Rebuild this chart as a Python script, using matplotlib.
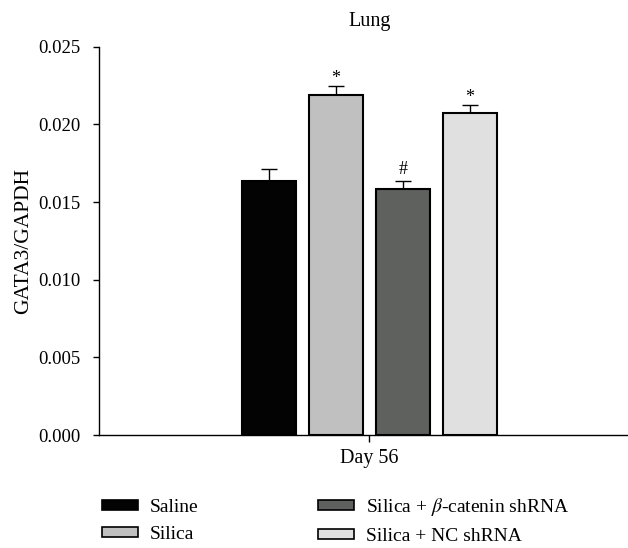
import matplotlib
matplotlib.use("Agg")
import matplotlib.pyplot as plt
from matplotlib.patches import Patch

plt.rcParams['font.family'] = ['Liberation Serif', 'DejaVu Serif']
plt.rcParams['mathtext.fontset'] = 'stix'

# --- datos ---
grupos = ["Saline", "Silica", "Silica + $\\beta$-catenin shRNA", "Silica + NC shRNA"]
valores = [0.01634, 0.02192, 0.01587, 0.02071]
errores = [0.00077, 0.00058, 0.00047, 0.00054]
marcas = ["", "*", "#", "*"]
colores = ["#030303", "#c0c0c0", "#5f615f", "#e0e0e0"]
posiciones = [-1.5, -0.5, 0.5, 1.5]

fs = 14.5

fig = plt.figure(figsize=(6.28, 5.48), dpi=100)
ax = fig.add_axes([0.1576, 0.2062, 0.8424, 0.7086])

ax.bar(posiciones, valores, width=0.81, color=colores, edgecolor="black",
       linewidth=1.5, zorder=2)
ax.errorbar(posiciones, valores, yerr=[[0] * 4, errores], fmt="none",
            ecolor="black", elinewidth=1.0, capsize=5.5, capthick=1.0, zorder=1)

for x, v, e, m in zip(posiciones, valores, errores, marcas):
    if m:
        desp = -0.0001 if m == "*" else 0.0002
        ax.text(x, v + e + desp, m, ha="center", va="bottom", fontsize=13)

ax.set_xlim(-4.05, 3.87)
ax.set_ylim(0, 0.025)
ax.set_yticks([0, 0.005, 0.010, 0.015, 0.020, 0.025])
ax.set_yticklabels(["0.000", "0.005", "0.010", "0.015", "0.020", "0.025"])
ax.set_xticks([0])
ax.set_xticklabels(["Day 56"])
ax.tick_params(axis="both", direction="out", length=4, width=1)
ax.tick_params(axis="y", pad=9, labelsize=13.5)
ax.tick_params(axis="x", length=5, pad=5, labelsize=fs)
ax.set_ylabel("GATA3/GAPDH", fontsize=15.5, labelpad=4)
# titulo centrado sobre el grupo de barras
ax.text(0, 1.04, "Lung", transform=ax.get_xaxis_transform(), ha="center",
        va="bottom", fontsize=fs)

for lado in ["top", "right"]:
    ax.spines[lado].set_visible(False)
for lado in ["left", "bottom"]:
    ax.spines[lado].set_linewidth(1.0)

# Leyenda en dos bloques
handles = [Patch(facecolor=c, edgecolor="black", linewidth=1.2) for c in colores]
for i, x0, y0 in [(0, 102 / 628, 499 / 548), (2, 318 / 628, 496 / 548)]:
    fig.legend(handles[i:i + 2], grupos[i:i + 2], loc="upper left",
               bbox_to_anchor=(x0, 1 - y0), frameon=False, fontsize=14,
               handlelength=1.85, handleheight=0.45, handletextpad=0.6,
               labelspacing=0.5, borderpad=0, borderaxespad=0)

fig.savefig("out.png", dpi=100)
